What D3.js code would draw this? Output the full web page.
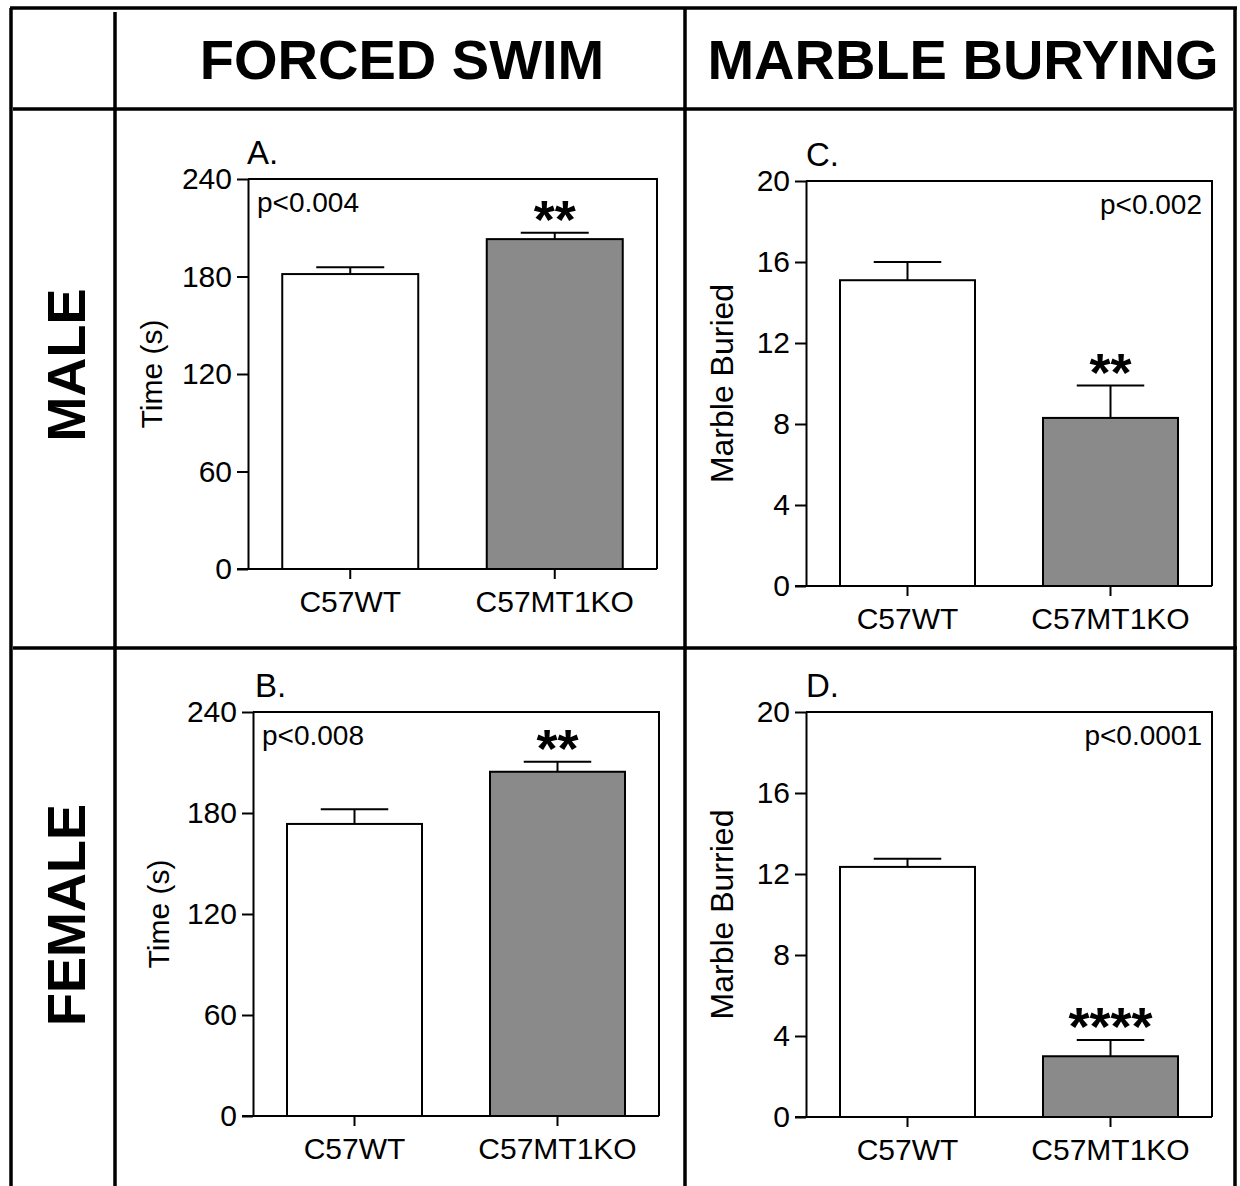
<!DOCTYPE html>
<html lang="en">
<head>
  <meta charset="UTF-8">
  <title>Forced swim / marble burying</title>
  <style>
    body { margin: 0; background: #fff; }
    text { font-family: "Liberation Sans", Arial, sans-serif; fill: #000; }
  </style>
</head>
<body>
  <svg width="1240" height="1186" class="svgs"></svg>
  <script src="https://cdn.jsdelivr.net/npm/d3@7/dist/d3.min.js"></script>
  <script>
    // data
    const categories = ['C57WT', 'C57MT1KO']
    const swimMale = [181.5, 203]
    const swimMaleErr = [4.2, 4]
    const swimFemale = [173.5, 204.5]
    const swimFemaleErr = [8.7, 6]
    const marbleMale = [15.1, 8.3]
    const marbleMaleErr = [0.9, 1.6]
    const marbleFemale = [12.35, 3.0]
    const marbleFemaleErr = [0.4, 0.8]
    const swimTicks = [0, 60, 120, 180, 240]
    const marbleTicks = [0, 4, 8, 12, 16, 20]
    const colTitles = ['FORCED SWIM', 'MARBLE BURYING']
    const rowTitles = ['MALE', 'FEMALE']

    const svg = d3.select('.svgs')
    const font = '"Liberation Sans", Arial, sans-serif'

    // table grid
    const grid = svg.append('g').attr('stroke', '#000').attr('stroke-width', 3.5)
    const hLines = [[10, 1237, 8], [13, 1233, 109], [13, 1237, 648]]
    const vLines = [[11, 8, 1186], [115, 12, 1186], [685, 8, 1186], [1235, 8, 1186]]
    hLines.forEach(d => grid.append('line').attr('x1', d[0]).attr('x2', d[1]).attr('y1', d[2]).attr('y2', d[2]))
    vLines.forEach(d => grid.append('line').attr('x1', d[0]).attr('x2', d[0]).attr('y1', d[1]).attr('y2', d[2]))

    // column / row headings
    const colX = [402, 963]
    colTitles.forEach((t, i) => {
      svg.append('text').text(t)
        .attr('x', colX[i]).attr('y', 79)
        .attr('text-anchor', 'middle')
        .attr('font-size', 56).attr('font-weight', 'bold')
    })
    const rowY = [365, 915]
    rowTitles.forEach((t, i) => {
      svg.append('text').text(t)
        .attr('transform', `translate(85, ${rowY[i]}) rotate(-90)`)
        .attr('text-anchor', 'middle')
        .attr('font-size', 54).attr('font-weight', 'bold')
    })

    const panels = [
      { letter: 'A.', x: 248, y: 179, w: 409, h: 390, max: 240, ticks: swimTicks, vals: swimMale, errs: swimMaleErr,
        ylabel: 'Time (s)', labX: -86, p: 'p<0.004', pLeft: true, stars: '**', letterDx: -1 },
      { letter: 'B.', x: 253, y: 712, w: 406, h: 404, max: 240, ticks: swimTicks, vals: swimFemale, errs: swimFemaleErr,
        ylabel: 'Time (s)', labX: -84, p: 'p<0.008', pLeft: true, stars: '**', letterDx: 2 },
      { letter: 'C.', x: 806, y: 181, w: 406, h: 405, max: 20, ticks: marbleTicks, vals: marbleMale, errs: marbleMaleErr,
        ylabel: 'Marble Buried', labX: -73, p: 'p<0.002', pLeft: false, stars: '**', letterDx: 0 },
      { letter: 'D.', x: 806, y: 712, w: 406, h: 405, max: 20, ticks: marbleTicks, vals: marbleFemale, errs: marbleFemaleErr,
        ylabel: 'Marble Burried', labX: -73, p: 'p<0.0001', pLeft: false, stars: '****', letterDx: 0 }
    ]

    panels.forEach(p => {
      const g = svg.append('g').attr('transform', `translate(${p.x}, ${p.y})`)

      const xScale = d3.scaleBand()
        .domain(categories)
        .range([0, p.w])
        .paddingInner(0.335)
        .paddingOuter(0.1675)

      const yScale = d3.scaleLinear()
        .domain([0, p.max])
        .range([p.h, 0])

      // bars
      categories.forEach((c, i) => {
        const top = yScale(p.vals[i])
        const errTop = yScale(p.vals[i] + p.errs[i])
        const cx = xScale(c) + xScale.bandwidth() / 2
        g.append('line')
          .attr('x1', cx).attr('x2', cx)
          .attr('y1', top).attr('y2', errTop)
          .attr('stroke', '#000').attr('stroke-width', 2)
        g.append('line')
          .attr('x1', cx - xScale.bandwidth() / 4).attr('x2', cx + xScale.bandwidth() / 4)
          .attr('y1', errTop).attr('y2', errTop)
          .attr('stroke', '#000').attr('stroke-width', 2)
        g.append('rect')
          .attr('x', xScale(c))
          .attr('y', top)
          .attr('width', xScale.bandwidth())
          .attr('height', p.h - top)
          .attr('fill', i === 0 ? '#fff' : '#8a8a8a')
          .attr('stroke', '#000').attr('stroke-width', 2)
      })

      // stars over the KO bar
      const ko = categories[1]
      g.append('text').text(p.stars)
        .attr('x', xScale(ko) + xScale.bandwidth() / 2)
        .attr('y', yScale(p.vals[1] + p.errs[1]) + 5)
        .attr('text-anchor', 'middle')
        .attr('font-size', 54).attr('font-weight', 'bold')

      // frame top + right
      g.append('path')
        .attr('d', `M0,0H${p.w}V${p.h}`)
        .attr('fill', 'none').attr('stroke', '#000').attr('stroke-width', 2)

      const yAxis = d3.axisLeft(yScale)
        .tickValues(p.ticks)
        .tickSize(11)
        .tickSizeOuter(0)
        .tickPadding(5)
      const ya = g.append('g').call(yAxis)

      const xAxis = d3.axisBottom(xScale)
        .tickSize(10)
        .tickSizeOuter(0)
        .tickPadding(12)
      const xa = g.append('g').attr('transform', `translate(0, ${p.h})`).call(xAxis)

      ya.selectAll('path, line').attr('stroke', '#000').attr('stroke-width', 2)
      xa.selectAll('path, line').attr('stroke', '#000').attr('stroke-width', 2)
      ya.selectAll('.tick text').attr('font-size', 30).attr('font-family', font).attr('fill', '#000')
      xa.selectAll('.tick text').attr('font-size', 30).attr('font-family', font).attr('fill', '#000')
      // x axis line reaches back under the 0 tick
      xa.select('.domain').attr('d', `M-11,0H${p.w}`)

      // axis title
      g.append('text').text(p.ylabel)
        .attr('transform', `translate(${p.labX}, ${p.h / 2}) rotate(-90)`)
        .attr('text-anchor', 'middle')
        .attr('font-size', p.max === 240 ? 30 : 32)

      // panel letter
      g.append('text').text(p.letter)
        .attr('x', p.letterDx).attr('y', -15)
        .attr('font-size', 33)

      // p-value
      g.append('text').text(p.p)
        .attr('x', p.pLeft ? 9 : p.w - 10)
        .attr('y', 33)
        .attr('text-anchor', p.pLeft ? 'start' : 'end')
        .attr('font-size', 28)
    })
  </script>
</body>
</html>
